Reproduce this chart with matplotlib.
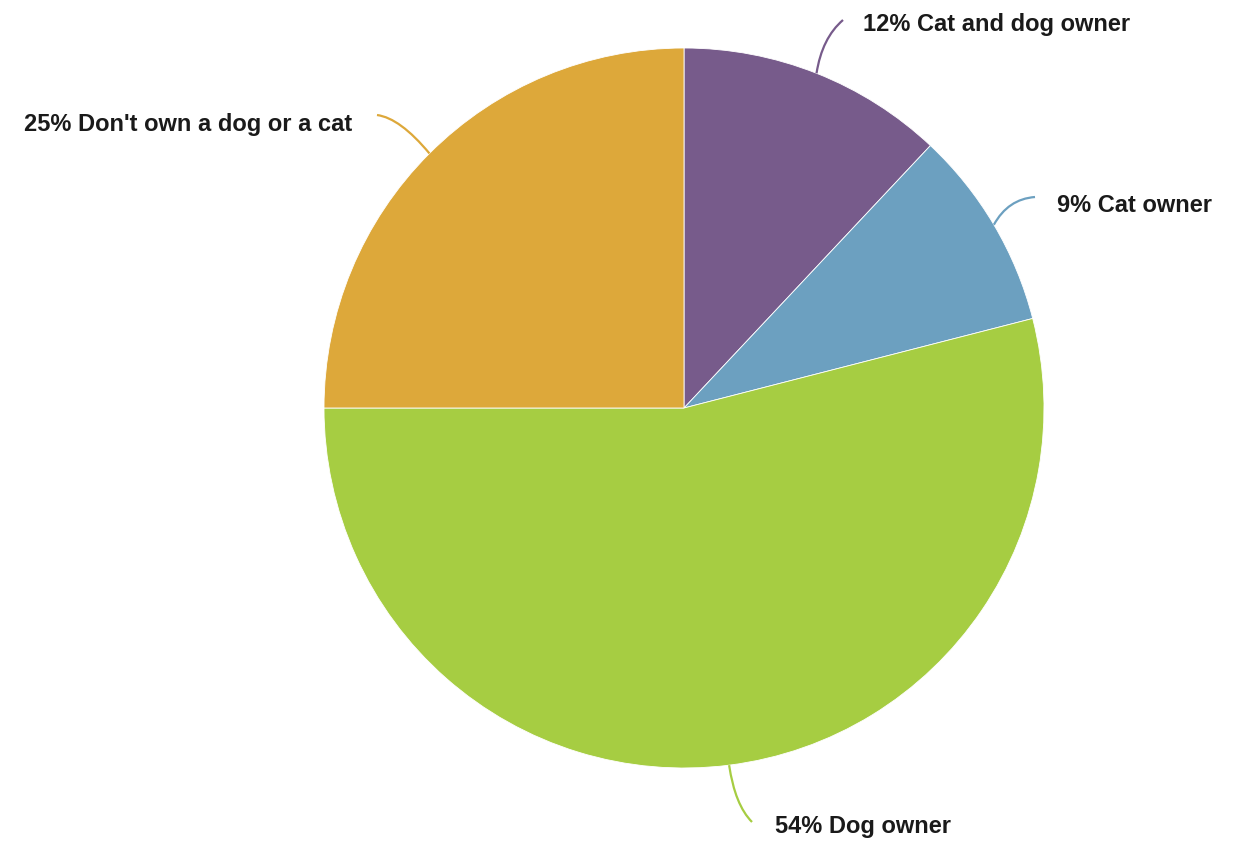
import numpy as np
import matplotlib.pyplot as plt
from matplotlib.path import Path
from matplotlib.patches import PathPatch

# 数据
labels = ['Cat and dog owner', 'Cat owner', 'Dog owner', "Don't own a dog or a cat"]
shares = [12, 9, 54, 25]
colors = ['#775B8B', '#6CA0C0', '#A6CD42', '#DDA83A']

# 画布以像素为坐标 (y 向上)
W, H = 1252, 842
cx, cy, r = 684, H - 408, 360

# 标签位置: (连线终点, 文本位置, 对齐方式)
label_layout = [
    ((843, H - 20), (863, H - 25), 'left'),
    ((1035, H - 197), (1057, H - 205), 'left'),
    ((752, H - 822), (775, H - 826), 'left'),
    ((377, H - 115), (352, H - 125), 'right'),
]
# 二次贝塞尔控制点 (像素)
ctrl_pts = [(822, H - 38), (1008, H - 199), (735, H - 805), (400, H - 118)]

plt.rcParams['font.family'] = ['Liberation Sans', 'DejaVu Sans']

fig = plt.figure(figsize=(W / 100, H / 100), dpi=100)
ax = fig.add_axes([0, 0, 1, 1])
wedges, _ = ax.pie(shares, colors=colors, startangle=90, counterclock=False,
                   center=(cx, cy), radius=r, frame=True,
                   wedgeprops=dict(edgecolor='white', linewidth=0.6))
ax.set_xlim(0, W)
ax.set_ylim(0, H)
ax.set_aspect('equal')
ax.axis('off')

for w, lab, pct, col, (end, tpos, ha), ctrl in zip(wedges, labels, shares, colors,
                                                   label_layout, ctrl_pts):
    ang = np.deg2rad((w.theta1 + w.theta2) / 2)
    start = (cx + r * np.cos(ang), cy + r * np.sin(ang))
    path = Path([start, ctrl, end], [Path.MOVETO, Path.CURVE3, Path.CURVE3])
    ax.add_patch(PathPatch(path, facecolor='none', edgecolor=col, lw=1.6))
    ax.text(tpos[0], tpos[1], f'{pct}% {lab}', ha=ha, va='center',
            fontsize=17, fontweight='bold', color='#1a1a1a')

fig.savefig('out.png', dpi=100)
